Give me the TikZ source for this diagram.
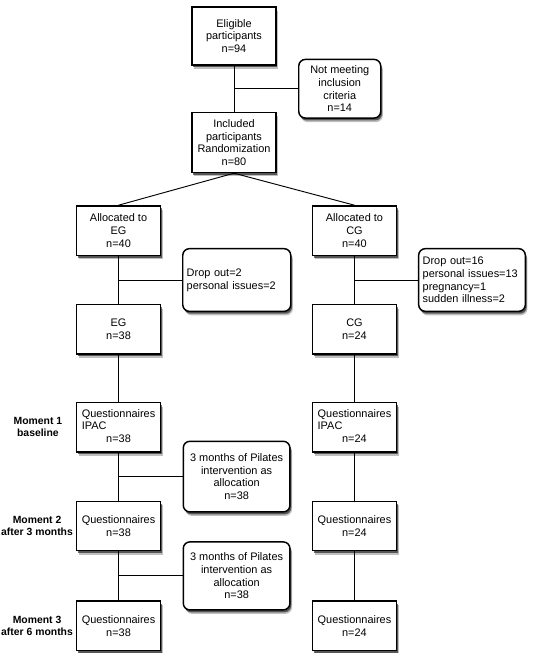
\documentclass[tikz,border=0pt]{standalone}
\usepackage{fontspec}
\setmainfont{Liberation Sans}
\usetikzlibrary{shapes,positioning,calc,shadows}

\begin{document}
\begin{tikzpicture}[x=0.75pt, y=-0.75pt,
  box/.style={rectangle, draw, line width=1.1pt, fill=white,
    drop shadow={shadow xshift=1.6pt, shadow yshift=-3pt, fill=black, opacity=0.25},
    drop shadow={shadow xshift=1pt, shadow yshift=-1.8pt, fill=black, opacity=0.55},
    align=center, minimum width=63pt, minimum height=37pt, inner sep=2pt, font=\fontsize{8.2}{9.5}\selectfont},
  sidebox/.style={box, rounded corners=5pt, minimum width=#1},
  moment/.style={align=center, inner sep=1pt, font=\fontsize{7.8}{9.2}\selectfont\bfseries},
  link/.style={line width=0.7pt}]

\useasboundingbox (0,0) rectangle (533,653);

% PARTICIPANTS

\node [box, minimum height=43.5pt] (eligible) at (234,36) {Eligible\\participants\\n=94};

\node [box, minimum height=45pt, below=34.5pt of eligible] (included) {Included\\participants\\Randomization\\n=80};

% GROUPS

\node [box, below left=24pt and 22.5pt of included] (allocated-eg) {Allocated to\\EG\\n=40};

\node [box, below right=24pt and 26.25pt of included] (allocated-cg) {Allocated to\\CG\\n=40};

\node [box, below=36pt of allocated-eg] (eg) {EG\\n=38};

\node [box, below=36pt of allocated-cg] (cg) {CG\\n=24};

% QUESTIONNAIRES

\node [box, below=35.25pt of eg] (quest-eg-1)
{\begin{tabular}{@{}l@{}}Questionnaires\\IPAC\\\multicolumn{1}{@{}c@{}}{n=38}\end{tabular}};

\node [box, below=36pt of quest-eg-1] (quest-eg-2) {Questionnaires\\n=38};

\node [box, below=36.75pt of quest-eg-2] (quest-eg-3) {Questionnaires\\n=38};

\node [box, below=35.25pt of cg] (quest-cg-1)
{\begin{tabular}{@{}l@{}}Questionnaires\\IPAC\\\multicolumn{1}{@{}c@{}}{n=24}\end{tabular}};

\node [box, below=36pt of quest-cg-1] (quest-cg-2) {Questionnaires\\n=24};

\node [box, below=36.75pt of quest-cg-2] (quest-cg-3) {Questionnaires\\n=24};

% MOMENTS

\node [moment, left=9pt of quest-eg-1] (moment-1) {Moment 1\\baseline};

\node [moment, left=1pt of quest-eg-2] (moment-2) {Moment 2\\after 3 months};

\node [moment, left=1pt of quest-eg-3] (moment-3) {Moment 3\\after 6 months};

% SIDE BOXES

\coordinate (split-inclusion) at ($(eligible.south)!0.5!(included.north)$);
\coordinate (split-eg) at ($(allocated-eg.south)!0.5!(eg.north)$);
\coordinate (split-cg) at ($(allocated-cg.south)!0.5!(cg.north)$);
\coordinate (split-pilates-1) at ($(quest-eg-1.south)!0.5!(quest-eg-2.north)$);
\coordinate (split-pilates-2) at ($(quest-eg-2.south)!0.5!(quest-eg-3.north)$);

\node [sidebox=61.5pt, minimum height=44pt, right=48pt of split-inclusion] (not-meeting) {Not meeting\\inclusion\\criteria\\n=14};

\node [sidebox=81pt, text width=75pt, align=left, inner xsep=3pt, minimum height=47pt, right=47.6pt of split-eg] (dropout-eg)
{Drop out=2\\personal issues=2};

\node [sidebox=80pt, text width=74pt, align=left, inner xsep=3pt, minimum height=47pt, right=47.6pt of split-cg] (dropout-cg)
{Drop out=16\\personal issues=13\\pregnancy=1\\sudden illness=2};

\node [sidebox=80pt, minimum height=53pt, right=48pt of split-pilates-1] (pilates-1) {3 months of Pilates\\intervention as\\allocation\\n=38};

\node [sidebox=80pt, minimum height=51pt, right=48pt of split-pilates-2] (pilates-2) {3 months of Pilates\\intervention as\\allocation\\n=38};

% LINKS

\draw [link] (eligible) -- (included);
\draw [link] (split-inclusion) -- (not-meeting);
\draw [link] (included.south) -- (allocated-eg.north);
\draw [link] (included.south) -- (allocated-cg.north);

\draw [link] (allocated-eg) -- (eg);
\draw [link] (split-eg) -- (dropout-eg);
\draw [link] (eg) -- (quest-eg-1);
\draw [link] (quest-eg-1) -- (quest-eg-2);
\draw [link] (split-pilates-1) -- (pilates-1);
\draw [link] (quest-eg-2) -- (quest-eg-3);
\draw [link] (split-pilates-2) -- (pilates-2);

\draw [link] (allocated-cg) -- (cg);
\draw [link] (split-cg) -- (dropout-cg);
\draw [link] (cg) -- (quest-cg-1);
\draw [link] (quest-cg-1) -- (quest-cg-2);
\draw [link] (quest-cg-2) -- (quest-cg-3);

\end{tikzpicture}
\end{document}
